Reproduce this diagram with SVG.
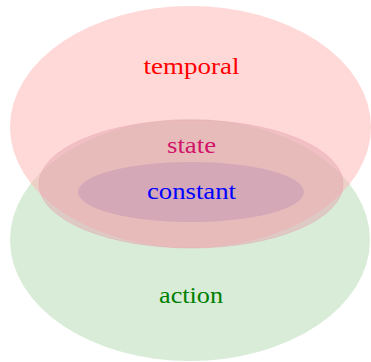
<svg xmlns="http://www.w3.org/2000/svg" width="371" height="362" viewBox="0 0 371 362">
<style>
.lbl{font-family:"Liberation Serif","DejaVu Serif",serif;font-size:24px;text-anchor:middle}
.set{fill-opacity:0.5}
</style>
<rect width="371" height="362" fill="#ffffff"/>
<g id="action"><ellipse class="set" cx="190" cy="240" rx="180" ry="121" fill="#b2d9b2"/></g>
<g id="temporal"><ellipse class="set" cx="190.5" cy="127" rx="180.5" ry="121" fill="#ffb2b2"/></g>
<g id="state"><ellipse class="set" cx="191" cy="184" rx="152" ry="64" fill="#e4a8b2" stroke="#e8a0b0" stroke-opacity="0.4" stroke-width="1"/></g>
<g id="constant"><ellipse class="set" cx="191" cy="192" rx="113" ry="30" fill="#c296b6"/></g>
<g id="labels">
<text class="lbl" x="191.5" y="74" fill="#ff0000" textLength="96" lengthAdjust="spacingAndGlyphs">temporal</text>
<text class="lbl" x="191.5" y="153" fill="#d0146a" textLength="49" lengthAdjust="spacingAndGlyphs">state</text>
<text class="lbl" x="191.5" y="199" fill="#0000ff" textLength="89" lengthAdjust="spacingAndGlyphs">constant</text>
<text class="lbl" x="191" y="303" fill="#008000" textLength="64" lengthAdjust="spacingAndGlyphs">action</text>
</g>
<g id="connectors"/>
</svg>
